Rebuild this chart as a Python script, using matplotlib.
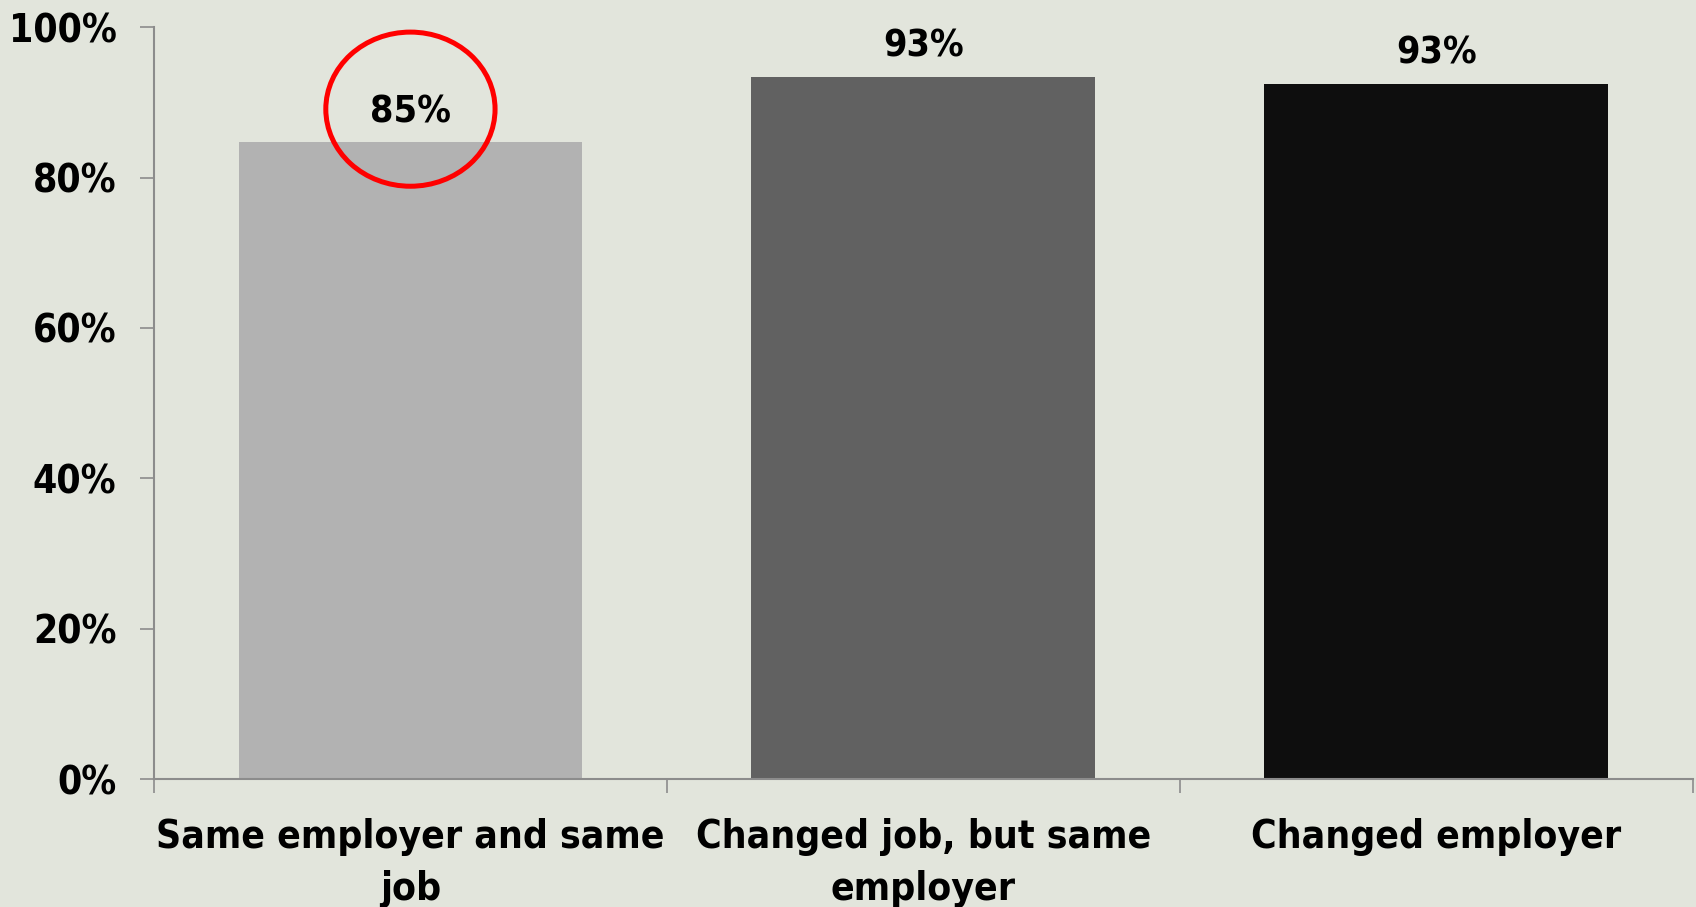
import matplotlib
matplotlib.use("Agg")
import matplotlib.pyplot as plt
from matplotlib.patches import Ellipse
from matplotlib import font_manager

# data
categories = ["Same employer and same\njob", "Changed job, but same\nemployer", "Changed employer"]
values = [84.7, 93.4, 92.5]
labels = ["85%", "93%", "93%"]
bar_colors = ["#b2b2b2", "#616161", "#0e0e0e"]
yticks = [0, 20, 40, 60, 80, 100]
ytick_labels = ["0%", "20%", "40%", "60%", "80%", "100%"]

# look for a narrow / condensed face, else plain Liberation Sans
narrow = None
for f in font_manager.fontManager.ttflist:
    if ('Narrow' in f.name or 'Condensed' in f.name or str(f.stretch) in ('condensed', 'semi-condensed', 'extra-condensed')) and f.weight in ('bold', 700, 'semibold', 600):
        narrow = f
        break
if narrow is not None:
    family = [narrow.name, 'DejaVu Sans']
    stretch = narrow.stretch
    sizes = (28, 27, 28)
else:
    family = ['Liberation Sans', 'DejaVu Sans']
    stretch = 'normal'
    sizes = (26, 26, 27)
tick_fs, val_fs, cat_fs = sizes
plt.rcParams['font.family'] = family
plt.rcParams['font.stretch'] = stretch
plt.rcParams['font.weight'] = 'bold'

bg = "#e2e5dc"
fig = plt.figure(figsize=(16.96, 9.07), dpi=100, facecolor=bg)
ax = fig.add_axes([0.0908, 0.141, 0.9072, 0.829], facecolor=bg)

x = list(range(len(categories)))
ax.bar(x, values, width=0.67, color=bar_colors, zorder=2)

for xi, v, lab in zip(x, values, labels):
    ax.text(xi, v + 4.0, lab, ha='center', va='center', fontsize=val_fs, fontweight='bold')

# red circle around the first label
ax.add_patch(Ellipse((0, 89.1), 0.33, 20.5, fill=False, edgecolor='#ff0000', lw=3.6, zorder=3))

ax.set_xlim(-0.5, 2.5)
ax.set_ylim(0, 100)
ax.set_yticks(yticks)
ax.set_yticklabels(ytick_labels, fontsize=tick_fs, fontweight='bold')
ax.set_xticks(x)
ax.set_xticklabels(categories, fontsize=cat_fs, fontweight='bold', linespacing=1.45)
ax.set_xticks([-0.5, 0.5, 1.5, 2.5], minor=True)
ax.tick_params(axis='x', which='major', length=0, pad=28)
ax.tick_params(axis='x', which='minor', length=10, width=1.2, color='#8c8c8c')
ax.tick_params(axis='y', length=10, width=1.2, color='#8c8c8c', pad=17)

for s in ['top', 'right']:
    ax.spines[s].set_visible(False)
for s in ['left', 'bottom']:
    ax.spines[s].set_color('#8c8c8c')
    ax.spines[s].set_linewidth(1.5)

fig.savefig("out.png", dpi=100, facecolor=bg)
